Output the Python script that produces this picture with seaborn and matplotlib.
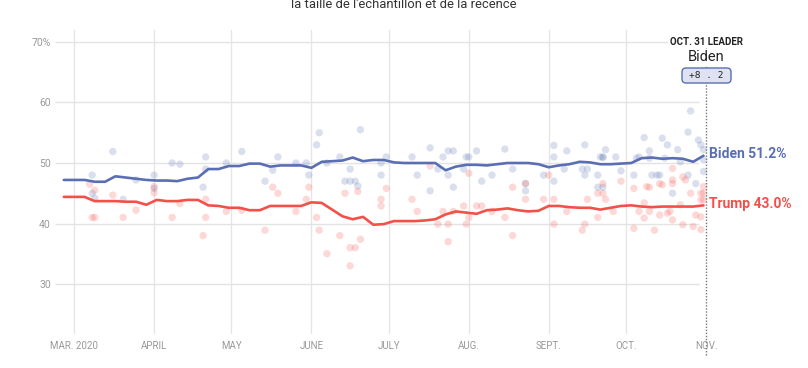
import matplotlib
matplotlib.use("Agg")
import matplotlib.pyplot as plt
from matplotlib.patches import FancyBboxPatch
from matplotlib.transforms import IdentityTransform
import seaborn as sns
import pandas as pd

# poll average, one value every 4 days from Feb 26 to Oct 31
avg_dates = pd.date_range(end="2020-10-31", periods=63, freq="4D")
biden_avg = [47.2, 47.2, 47.2, 46.9, 46.9, 47.8, 47.6, 47.4, 47.2, 47.1,
             47.1, 47.0, 47.4, 47.6, 49.0, 49.0, 49.5, 49.5, 49.9, 49.9,
             49.4, 49.6, 49.6, 49.6, 49.2, 50.2, 50.3, 50.4, 50.9, 50.3,
             50.5, 50.5, 50.1, 50.0, 50.0, 50.0, 50.0, 48.8, 49.4, 49.7,
             49.7, 49.6, 49.8, 50.0, 50.0, 50.0, 49.8, 49.3, 49.6, 49.8,
             50.2, 50.1, 49.8, 49.8, 49.9, 50.0, 50.8, 50.9, 50.7, 50.8,
             50.7, 50.2, 51.2]
trump_avg = [44.4, 44.4, 44.4, 43.7, 43.7, 43.7, 43.6, 43.6, 43.1, 43.9,
             43.7, 43.7, 43.9, 43.9, 43.0, 42.9, 42.6, 42.6, 42.2, 42.2,
             42.9, 42.9, 42.9, 42.9, 43.5, 43.4, 42.3, 41.2, 40.7, 41.1,
             39.8, 39.9, 40.4, 40.4, 40.4, 40.5, 40.7, 41.5, 42.0, 41.8,
             41.6, 42.2, 42.3, 42.5, 42.2, 42.0, 42.1, 42.9, 42.9, 42.7,
             42.6, 42.6, 42.3, 42.6, 42.9, 43.0, 42.8, 42.7, 42.8, 42.8,
             42.8, 42.8, 43.0]

# individual polls: days after March 1 and result
biden_poll_day = [7, 7, 8, 15, 19, 24, 31, 31, 38, 41, 50, 51, 51, 59, 65, 74, 77,
                  79, 86, 90, 91, 94, 95, 98, 103, 105, 107, 107, 109, 110, 111,
                  119, 119, 121, 131, 133, 138, 138, 141, 143, 145, 145, 147, 147,
                  151, 152, 153, 156, 158, 162, 167, 170, 175, 175, 182, 186, 186,
                  186, 190, 191, 197, 198, 198, 199, 203, 203, 204, 205, 205, 205,
                  206, 210, 212, 217, 218, 219, 221, 223, 223, 224, 226, 227, 228,
                  229, 230, 232, 234, 235, 238, 238, 239, 241, 242, 243, 244, 244,
                  244]
biden_poll = [48.0, 45.0, 44.2, 51.9, 44.0, 47.2, 48.0, 45.8, 50.0, 49.8, 46.0,
              51.0, 49.0, 50.0, 51.9, 47.0, 48.8, 51.0, 50.0, 50.0, 48.0, 53.0,
              55.0, 50.0, 51.0, 47.0, 49.0, 47.0, 47.0, 46.2, 55.5, 50.0, 48.0,
              51.0, 51.0, 48.0, 52.5, 45.4, 49.0, 51.0, 52.0, 48.0, 52.0, 46.0,
              49.0, 51.0, 51.0, 52.0, 47.0, 48.0, 52.3, 49.0, 45.4, 46.6, 48.0,
              52.9, 51.0, 47.0, 49.0, 52.0, 49.0, 53.0, 48.0, 49.0, 48.0, 46.0,
              51.0, 51.0, 46.0, 50.9, 52.2, 51.0, 48.7, 48.0, 50.8, 51.0, 54.2,
              52.0, 50.8, 48.0, 48.0, 48.0, 54.1, 50.8, 53.0, 45.0, 52.2, 50.2,
              55.1, 48.0, 58.6, 46.6, 53.8, 53.0, 52.2, 50.5, 48.6]
trump_poll_day = [6, 7, 8, 8, 15, 19, 24, 31, 31, 38, 41, 50, 51, 51, 59, 65, 74,
                  77, 79, 86, 90, 91, 94, 95, 98, 103, 105, 107, 109, 107, 110,
                  111, 119, 119, 121, 131, 133, 138, 141, 143, 145, 145, 147, 151,
                  152, 153, 153, 156, 158, 162, 167, 170, 170, 175, 175, 182, 184,
                  186, 186, 191, 197, 198, 199, 203, 203, 205, 205, 206, 209, 212,
                  217, 217, 219, 221, 221, 222, 223, 223, 225, 227, 227, 228, 230,
                  231, 232, 232, 232, 232, 235, 236, 236, 237, 239, 240, 241, 243,
                  243, 243, 243, 244, 244, 244]
trump_poll = [46.5, 41.0, 41.0, 45.5, 44.7, 41.0, 42.2, 46.1, 45.1, 41.0, 43.3,
              38.0, 41.0, 44.0, 42.0, 42.2, 38.9, 46.0, 45.0, 42.0, 44.0, 46.0,
              41.0, 38.9, 35.0, 38.0, 45.0, 36.0, 36.0, 33.0, 45.3, 37.4, 44.0,
              42.9, 45.8, 44.0, 42.0, 49.5, 39.9, 42.0, 39.9, 37.0, 42.0, 42.9,
              39.9, 41.0, 48.3, 42.9, 42.9, 42.0, 41.0, 46.0, 38.0, 46.6, 44.0,
              44.0, 48.0, 44.0, 39.9, 42.0, 38.9, 39.9, 44.0, 45.0, 41.0, 46.6,
              45.0, 44.0, 42.0, 47.0, 39.2, 45.8, 42.0, 43.4, 40.9, 46.1, 46.0,
              42.0, 38.9, 46.6, 41.4, 46.4, 41.7, 42.0, 47.2, 49.1, 46.6, 40.6,
              43.1, 47.7, 39.8, 47.2, 45.0, 39.5, 41.4, 45.0, 43.9, 39.0, 41.1,
              46.1, 45.0, 43.9]

month_ticks = pd.date_range("2020-03-01", "2020-11-01", freq="MS")
month_labels = ["MAR. 2020", "APRIL", "MAY", "JUNE", "JULY", "AUG.",
                "SEPT.", "OCT.", "NOV."]
y_ticks = [30, 40, 50, 60, 70]
y_labels = ["30", "40", "50", "60", "70%"]

blue = "#5a6eb4"
red = "#f4504a"

sns.set_style("white")
plt.rcParams['font.family'] = ['Roboto', 'DejaVu Sans']

start = pd.Timestamp("2020-03-01")
avg = pd.concat([
    pd.DataFrame({"date": avg_dates, "value": biden_avg, "who": "Biden"}),
    pd.DataFrame({"date": avg_dates, "value": trump_avg, "who": "Trump"}),
])
polls = pd.concat([
    pd.DataFrame({"date": start + pd.to_timedelta(biden_poll_day, unit="D"),
                  "value": biden_poll, "who": "Biden"}),
    pd.DataFrame({"date": start + pd.to_timedelta(trump_poll_day, unit="D"),
                  "value": trump_poll, "who": "Trump"}),
])
pal = {"Biden": blue, "Trump": red}

fig = plt.figure(figsize=(8.08, 3.68), dpi=100)
ax = fig.add_axes([55/808, 34/368, 657/808, 304/368])
ax.set_xlim(pd.Timestamp("2020-02-22 14:00"), pd.Timestamp("2020-11-03 07:00"))
ax.set_ylim(21.74, 71.98)

# grid
for d in month_ticks[:-1]:
    ax.axvline(d, color="#e6e6e6", lw=1, zorder=0)
ax.hlines(y_ticks, ax.get_xlim()[0], pd.Timestamp("2020-10-29 08:00"),
          color="#e3e3e3", lw=1, zorder=0)
ax.axvline(month_ticks[-1], ymin=-0.07, ymax=0.985, color="#777777", lw=1,
           ls=(0, (1, 1.2)), clip_on=False, zorder=1)

sns.scatterplot(data=polls, x="date", y="value", hue="who", palette=pal,
                s=28, alpha=0.22, linewidth=0, legend=False, ax=ax, zorder=2)
sns.lineplot(data=avg, x="date", y="value", hue="who", palette=pal,
             lw=1.9, legend=False, ax=ax, zorder=3)

ax.set_xticks(month_ticks)
ax.set_xticklabels(month_labels, fontsize=7, color="#999999")
ax.set_yticks(y_ticks)
ax.set_yticklabels(y_labels, fontsize=7.5, color="#999999")
ax.tick_params(length=0, pad=3)
ax.tick_params(axis="x", pad=5)
ax.set_xlabel("")
ax.set_ylabel("")
sns.despine(ax=ax, left=True, bottom=True)

end = pd.Timestamp("2020-10-31")
ax.annotate("Biden 51.2%", xy=(end, biden_avg[-1]), xytext=(4, 1),
            textcoords="offset points", va="center", ha="left",
            color=blue, fontsize=10, fontweight="bold")
ax.annotate("Trump 43.0%", xy=(end, trump_avg[-1]), xytext=(4, 1),
            textcoords="offset points", va="center", ha="left",
            color=red, fontsize=10, fontweight="bold")

nov = month_ticks[-1]
ax.text(nov, 70.0, "OCT. 31 LEADER", ha="center", va="center", fontsize=7,
        fontweight="bold", color="#222222",
        bbox=dict(facecolor="white", edgecolor="none", pad=1))
ax.text(nov, 67.5, "Biden", ha="center", va="center", fontsize=10.5,
        color="#222222", bbox=dict(facecolor="white", edgecolor="none", pad=1))
box = FancyBboxPatch((682, 285), 49, 15, boxstyle="round,pad=0,rounding_size=4",
                     facecolor="#dfe3f1", edgecolor=blue, lw=1,
                     transform=IdentityTransform(), zorder=5)
fig.add_artist(box)
fig.text(706.5/808, 1 - 75.5/368, "+8 . 2", ha="center", va="center",
         fontsize=6.8, family="DejaVu Sans Mono", color="#222222", zorder=6)

fig.text(0.5, 1 - 8/368, "la taille de l'échantillon et de la récence",
         ha="center", va="baseline", fontsize=9.4, color="#333333")

fig.savefig("out.png", dpi=100)
